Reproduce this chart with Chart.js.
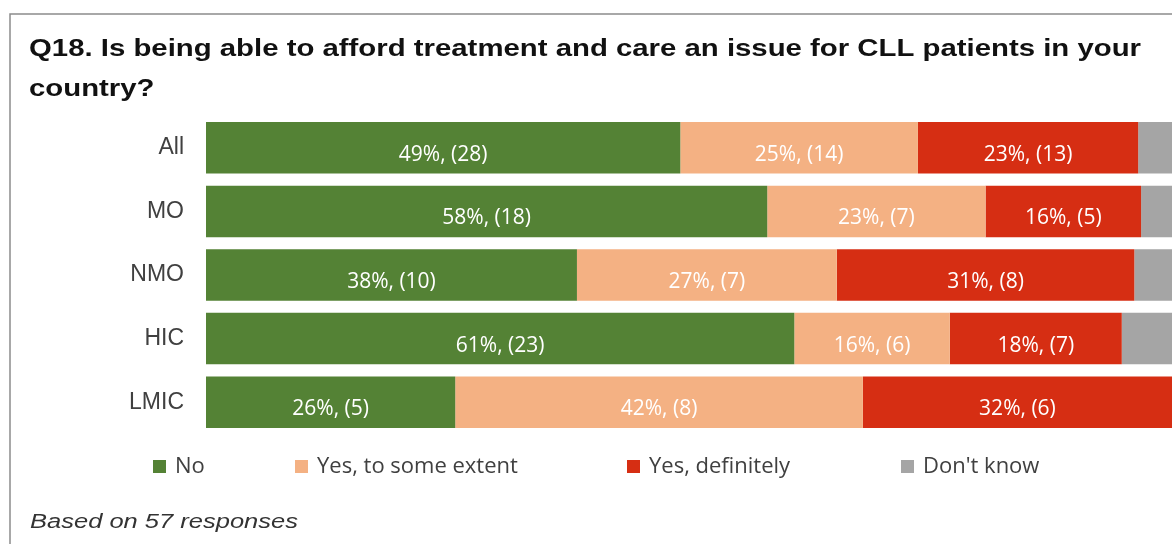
<!DOCTYPE html>
<html>
<head>
<meta charset="utf-8">
<script src="https://cdn.jsdelivr.net/npm/chart.js@4"></script>
<style>
  html, body { margin: 0; padding: 0; background: #fff; overflow: hidden; }
  canvas { display: block; }
</style>
</head>
<body>
<canvas id="chart" width="1172" height="544"></canvas>
<script>
// values (share of respondents, %)
const categories = ["All", "MO", "NMO", "HIC", "LMIC"];
const seriesNames = ["No", "Yes, to some extent", "Yes, definitely", "Don't know"];
const noPct = [49.1, 58.1, 38.4, 60.9, 25.8];
const somePct = [24.6, 22.6, 26.9, 16.1, 42.2];
const definitelyPct = [22.8, 16.1, 30.8, 17.8, 32.0];
const dontKnowPct = [3.5, 3.2, 3.9, 5.2, 0];
// respondent counts shown in brackets
const noCount = [28, 18, 10, 23, 5];
const someCount = [14, 7, 7, 6, 8];
const definitelyCount = [13, 5, 8, 7, 6];

const titleLines = [
  "Q18. Is being able to afford treatment and care an issue for CLL patients in your",
  "country?",
];
const footNote = "Based on 57 responses";

const colors = ["#548235", "#F4B183", "#D62E13", "#A5A5A5"];
const counts = [noCount, someCount, definitelyCount, null];

const SANS = '"Liberation Sans", Arial, sans-serif';
const SEGOE = '"Open Sans", "Noto Sans", sans-serif';

// draw a line of text squeezed/stretched to a given width
function fitText(ctx, text, x, y, width) {
  const w = ctx.measureText(text).width;
  ctx.save();
  ctx.translate(x, y);
  ctx.scale(width / w, 1);
  ctx.fillText(text, 0, 0);
  ctx.restore();
}

const framePlugin = {
  id: "frame",
  beforeDraw(chart) {
    const ctx = chart.ctx;
    ctx.save();
    ctx.fillStyle = "#fff";
    ctx.fillRect(0, 0, chart.width, chart.height);
    // outer box (only top and left edges are visible)
    ctx.strokeStyle = "#8c8c8c";
    ctx.lineWidth = 1.5;
    ctx.beginPath();
    ctx.moveTo(10, chart.height);
    ctx.lineTo(10, 14);
    ctx.lineTo(chart.width, 14);
    ctx.stroke();
    // title
    ctx.fillStyle = "#111";
    ctx.font = `bold 23.5px ${SANS}`;
    ctx.textBaseline = "alphabetic";
    const w0 = ctx.measureText(titleLines[0]).width;
    const sx = 1112 / w0;
    fitText(ctx, titleLines[0], 29, 55.5, 1112);
    fitText(ctx, titleLines[1], 29, 95.5, ctx.measureText(titleLines[1]).width * sx);
    // footnote
    ctx.fillStyle = "#333";
    ctx.font = `italic 20px ${SANS}`;
    fitText(ctx, footNote, 30, 528, 268);
    ctx.restore();
  },
};

const segmentLabels = {
  id: "segmentLabels",
  afterDatasetsDraw(chart) {
    const ctx = chart.ctx;
    ctx.save();
    ctx.fillStyle = "#fff";
    ctx.font = `21px ${SEGOE}`;
    ctx.textAlign = "center";
    ctx.textBaseline = "alphabetic";
    chart.data.datasets.forEach((ds, i) => {
      if (!counts[i]) return;
      chart.getDatasetMeta(i).data.forEach((bar, j) => {
        const p = bar.getProps(["x", "y", "base"], true);
        const label = `${Math.round(ds.data[j])}%, (${counts[i][j]})`;
        ctx.fillText(label, (p.x + p.base) / 2, p.y + 13);
      });
    });
    ctx.restore();
  },
};

const legendX = [153, 295, 627, 901];
const bottomLegend = {
  id: "bottomLegend",
  afterDraw(chart) {
    const ctx = chart.ctx;
    ctx.save();
    ctx.font = `22px ${SEGOE}`;
    ctx.textBaseline = "middle";
    chart.data.datasets.forEach((ds, i) => {
      const x = legendX[i];
      ctx.fillStyle = ds.backgroundColor;
      ctx.fillRect(x, 460, 13, 13);
      ctx.fillStyle = "#404040";
      ctx.fillText(ds.label, x + 22, 467);
    });
    ctx.restore();
  },
};

const seriesData = [noPct, somePct, definitelyPct, dontKnowPct];

new Chart(document.getElementById("chart"), {
  type: "bar",
  data: {
    labels: categories,
    datasets: seriesNames.map((name, i) => ({
      label: name,
      data: seriesData[i],
      backgroundColor: colors[i],
      borderWidth: 0,
      barPercentage: 0.81,
      categoryPercentage: 1,
    })),
  },
  options: {
    indexAxis: "y",
    responsive: false,
    animation: false,
    devicePixelRatio: 1,
    layout: { padding: { top: 116, bottom: 110, left: 0, right: 0 } },
    plugins: {
      legend: { display: false },
      title: { display: false },
      tooltip: { enabled: false },
    },
    scales: {
      x: { stacked: true, min: 0, max: 100, display: false },
      y: {
        stacked: true,
        grid: { display: false },
        border: { display: false },
        ticks: {
          color: "#404040",
          padding: 14,
          font: { family: SANS, size: 23 },
        },
        afterFit(scale) { scale.width = 206; },
      },
    },
  },
  plugins: [framePlugin, segmentLabels, bottomLegend],
});
</script>
</body>
</html>
